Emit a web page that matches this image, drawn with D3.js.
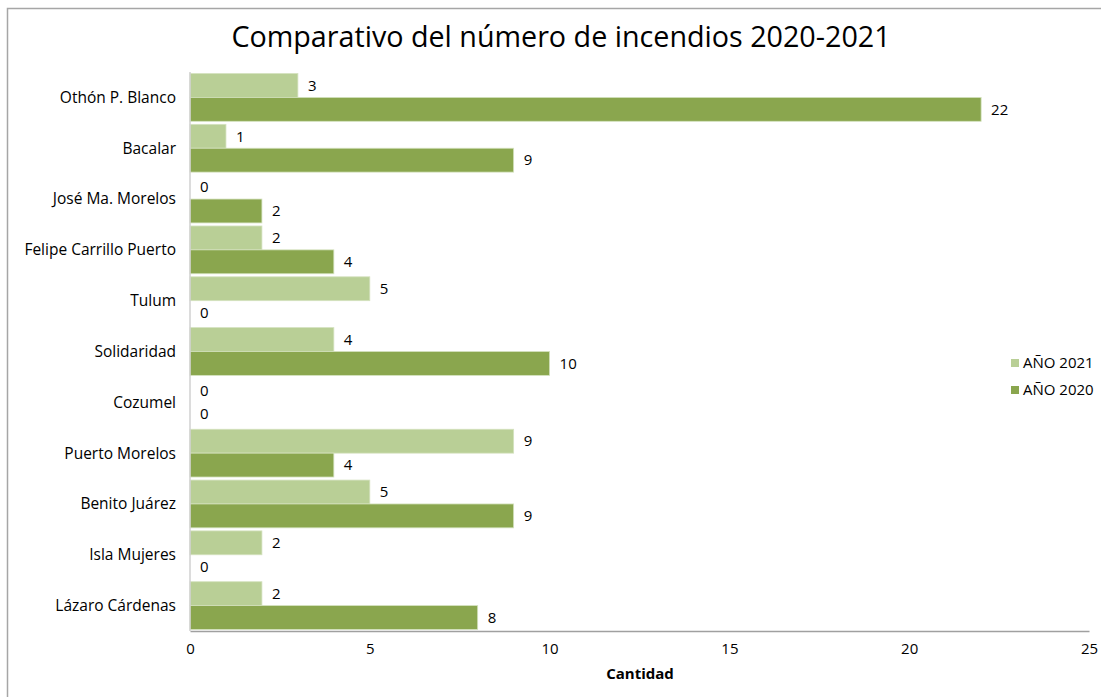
<!DOCTYPE html>
<html>
<head>
<meta charset="utf-8">
<script src="https://cdn.jsdelivr.net/npm/d3@7"></script>
<style>
  body { margin: 0; background: #fff; }
  text { font-family: "Open Sans", "Noto Sans", sans-serif; fill: #000; }
</style>
</head>
<body>
<div id="chart"></div>
<script>
const categories = ["Othón P. Blanco", "Bacalar", "José Ma. Morelos", "Felipe Carrillo Puerto",
  "Tulum", "Solidaridad", "Cozumel", "Puerto Morelos", "Benito Juárez", "Isla Mujeres", "Lázaro Cárdenas"];
const values2021 = [3, 1, 0, 2, 5, 4, 0, 9, 5, 2, 2];
const values2020 = [22, 9, 2, 4, 0, 10, 0, 4, 9, 0, 8];
const seriesNames = ["AÑO 2021", "AÑO 2020"];
const seriesColors = ["#b9cf96", "#8aa64e"];
const xTicks = [0, 5, 10, 15, 20, 25];

const width = 1101, height = 697;

const svg = d3.select("#chart").append("svg")
  .attr("width", width)
  .attr("height", height);

// outer frame, runs past right/bottom edge like the source
svg.append("rect")
  .attr("x", 7.5).attr("y", 8.5)
  .attr("width", width + 20).attr("height", height + 20)
  .attr("fill", "none").attr("stroke", "#a6a6a6").attr("stroke-width", 1.5);

const x = d3.scaleLinear().domain([0, 25]).range([190, 1089]);
const y = d3.scaleBand().domain(categories).range([72, 631]).paddingInner(0.06).paddingOuter(0.03);
const sub = d3.scaleBand().domain(seriesNames).range([0, y.bandwidth()]);

const rows = categories.map((c, i) => ({cat: c, vals: [values2021[i], values2020[i]]}));

const g = svg.append("g");

g.selectAll("g.row")
  .data(rows)
  .enter().append("g")
  .attr("class", "row")
  .attr("transform", d => "translate(0," + y(d.cat) + ")")
  .each(function(d){
    const row = d3.select(this);
    seriesNames.forEach((s, j) => {
      const v = d.vals[j];
      if (v > 0) {
        row.append("rect")
          .attr("x", x(0))
          .attr("y", sub(s))
          .attr("width", x(v) - x(0))
          .attr("height", sub.bandwidth())
          .attr("fill", seriesColors[j])
          .attr("stroke", "#d4e2bf")
          .attr("stroke-width", 0.8);
      }
      row.append("text")
        .attr("x", x(v) + 10)
        .attr("y", sub(s) + sub.bandwidth() / 2)
        .attr("dy", "0.35em")
        .style("font-size", "15px")
        .text(v);
    });
  });

// category labels
g.selectAll("text.cat")
  .data(categories)
  .enter().append("text")
  .attr("class", "cat")
  .attr("x", 176)
  .attr("y", d => y(d) + y.bandwidth() / 2)
  .attr("dy", "0.35em")
  .style("text-anchor", "end")
  .style("font-size", "15.5px")
  .text(d => d);

// axes
const xAxis = d3.axisBottom(x).tickValues(xTicks).tickSize(0).tickPadding(12);
const ax = svg.append("g").attr("transform", "translate(0,631)").call(xAxis);
ax.select(".domain").attr("stroke", "#a0a0a0").attr("stroke-width", 1.5);
ax.selectAll("text").style("font-size", "15px").style("font-family", "'Open Sans', sans-serif").attr("fill", "#000");

svg.append("line")
  .attr("x1", x(0)).attr("x2", x(0))
  .attr("y1", 72).attr("y2", 631)
  .attr("stroke", "#d0d0d0").attr("stroke-width", 1.5);

svg.append("text")
  .attr("x", 640).attr("y", 679)
  .style("text-anchor", "middle")
  .style("font-size", "15px")
  .style("font-weight", "bold")
  .text("Cantidad");

// title
svg.append("text")
  .attr("x", 561).attr("y", 47)
  .style("text-anchor", "middle")
  .style("font-size", "28.7px")
  .style("font-weight", "500")
  .text("Comparativo del número de incendios 2020-2021");

// legend
const leg = svg.append("g").attr("transform", "translate(1011,363)");
seriesNames.forEach((s, j) => {
  leg.append("rect")
    .attr("x", 0).attr("y", j * 27 - 4)
    .attr("width", 8).attr("height", 8)
    .attr("fill", seriesColors[j]);
  leg.append("text")
    .attr("x", 12).attr("y", j * 27)
    .attr("dy", "0.35em")
    .style("font-size", "15px")
    .text(s);
});
</script>
</body>
</html>
